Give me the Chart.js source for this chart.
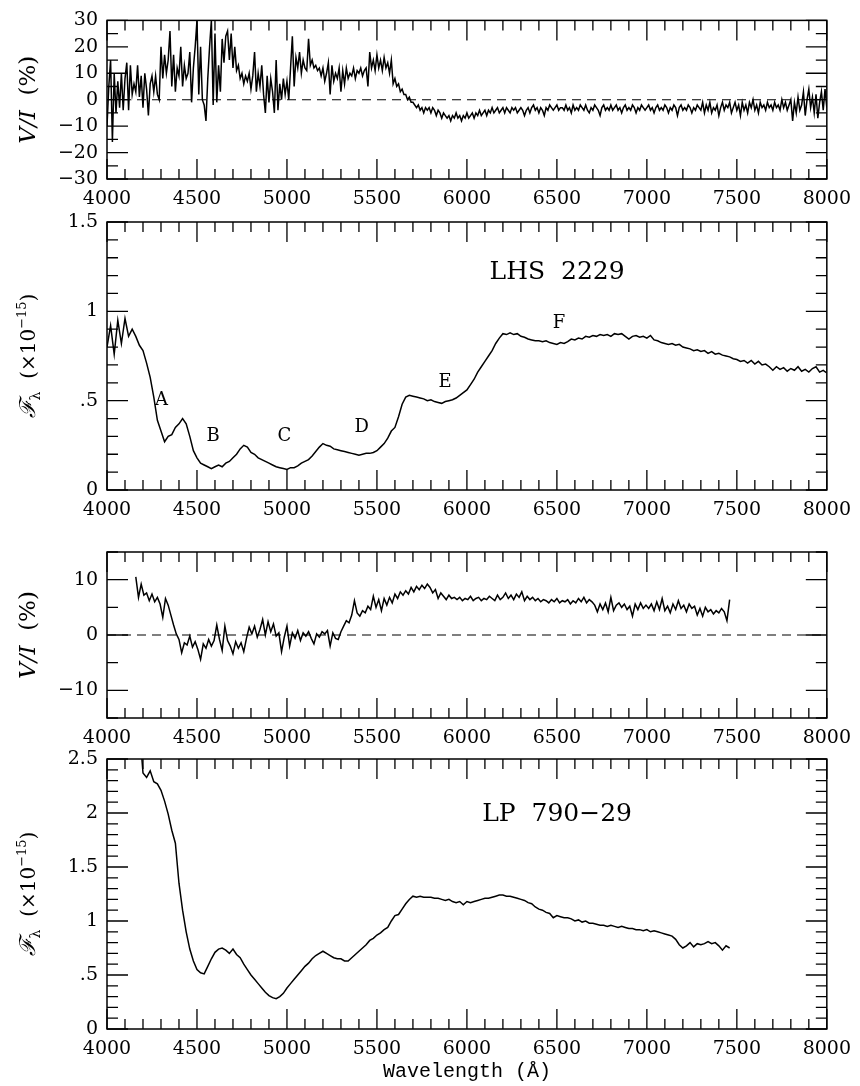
<!DOCTYPE html>
<html>
<head>
<meta charset="utf-8">
<script src="https://cdn.jsdelivr.net/npm/chart.js@4.4.1/dist/chart.umd.min.js"></script>
<style>
  body { margin: 0; background: #fff; }
  #wrap { position: relative; width: 860px; height: 1086px; }
  canvas { position: absolute; left: 0; }
</style>
</head>
<body>
<div id="wrap">
  <canvas id="c1" width="860" height="215" style="top:0px"></canvas>
  <canvas id="c2" width="860" height="326" style="top:200px"></canvas>
  <canvas id="c3" width="860" height="224" style="top:530px"></canvas>
  <canvas id="c4" width="860" height="349" style="top:737px"></canvas>
</div>
<script>
'use strict';

// wavelength axis, shared by all four panels
let xTicks = [4000, 4500, 5000, 5500, 6000, 6500, 7000, 7500, 8000];
let xMinorStep = 100;

// LHS 2229 circular polarization V/I (%), 10 A sampling from 4000
let lhsPolStart = 4000;
let lhsPolStep = 10;
let lhsPol = [
  -10, 5, 15, -16, 10, -5, 7, -3, 10, -4,
  8, 14, -4, 13, 2, 6, 3, 13, 1, 9,
  -3, 10, 4, -6, 6, 9, 3, 9, 2, 0,
  20, 8, 17, 10, 15, 26, 5, 17, 3, 12,
  9, 20, 5, 13, 8, 10, 18, -1, 12, 20,
  30, 2, 20, 0, -2, -8, 8, 20, 30, -2,
  25, -1, 13, 3, 23, 14, 24, 26, 15, 25,
  12, 20, 11, 13, 8, 10, 6, 9, 7, 10,
  4, 9, 18, 3, 10, 5, 13, 2, -5, 9,
  -1, 8, 3, -5, 15, -4, 6, 0, 8, 2,
  7, 0, 12, 24, 5, 16, 12, 18, 10, 15,
  12, 11, 23, 13, 15, 12, 13, 11, 12, 9,
  12, 7, 10, 14, 2, 13, 7, 10, 8, 12,
  3, 11, 6, 12, 8, 10, 9, 12, 8, 11,
  10, 12, 9, 11, 12, 5, 18, 12, 15, 11,
  17, 12, 15, 11, 16, 12, 14, 10, 15, 6,
  8, 5, 6, 3, 4, 2, 2, 0, 1, -1,
  -1, -2, -3, -2, -4, -3, -5, -3, -4, -3,
  -5, -3, -4, -6, -4, -5, -7, -5, -6, -7,
  -6, -8, -6, -7, -5, -7, -6, -8, -6, -7,
  -5, -7, -6, -5, -7, -5, -6, -4, -6, -5,
  -4, -6, -4, -5, -3, -5, -4, -3, -5, -4,
  -3, -5, -3, -4, -5, -3, -4, -3, -5, -4,
  -3, -4, -6, -4, -3, -5, -3, -2, -4, -3,
  -5, -3, -4, -6, -3, -4, -2, -3, -4, -3,
  -2, -4, -3, -3, -4, -2, -4, -3, -5, -2,
  -4, -3, -4, -2, -3, -4, -2, -4, -5, -3,
  -4, -2, -3, -4, -6, -3, -2, -4, -3, -4,
  -2, -4, -3, -2, -4, -3, -5, -3, -2, -4,
  -3, -4, -2, -3, -5, -3, -4, -2, -3, -4,
  -3, -2, -4, -3, -5, -3, -2, -4, -3, -4,
  -2, -3, -5, -3, -4, -2, -3, -6, -3, -2,
  -4, -3, -4, -2, -3, -5, -3, -4, -2, -3,
  -4, -1, -5, -2, -4, -1, -5, -3, -4, -2,
  -6, -3, -1, -4, -2, -3, -1, -5, -3, -1,
  -4, -2, -6, -1, -4, -2, -5, -1, -3, 0,
  -4, -2, -5, -1, -3, -2, -4, -1, -3, -2,
  -4, -1, -3, -2, -4, 0, -3, -1, -4, -2,
  0, -8, -1, -5, 1, -4, -2, 3, -6, 0,
  4, -3, 1, -5, 2, -7, -1, 3, -4, 4,
  -3
];
let lhsPolTicks = [-30, -20, -10, 0, 10, 20, 30];

// LHS 2229 flux (x1e-15), 20 A sampling from 4000
let lhsFluxStart = 4000;
let lhsFluxStep = 20;
let lhsFlux = [
  0.80, 0.92, 0.76, 0.95, 0.82, 0.96, 0.86, 0.90, 0.86, 0.81, 0.78,
  0.71, 0.63, 0.52, 0.39, 0.33, 0.27, 0.30, 0.31, 0.35, 0.37,
  0.40, 0.37, 0.30, 0.22, 0.18, 0.15, 0.14, 0.13, 0.12, 0.13,
  0.14, 0.13, 0.15, 0.16, 0.18, 0.20, 0.23, 0.25, 0.24, 0.21,
  0.20, 0.18, 0.17, 0.16, 0.15, 0.14, 0.13, 0.125, 0.12, 0.115,
  0.125, 0.125, 0.135, 0.15, 0.16, 0.17, 0.19, 0.215, 0.24, 0.26,
  0.25, 0.245, 0.23, 0.225, 0.22, 0.215, 0.21, 0.205, 0.20, 0.195,
  0.20, 0.205, 0.205, 0.21, 0.22, 0.24, 0.26, 0.29, 0.33, 0.35,
  0.41, 0.48, 0.52, 0.53, 0.525, 0.52, 0.515, 0.51, 0.50, 0.505,
  0.495, 0.49, 0.485, 0.495, 0.50, 0.505, 0.515, 0.53, 0.545, 0.56,
  0.59, 0.62, 0.66, 0.69, 0.72, 0.75, 0.78, 0.82, 0.85, 0.875,
  0.87, 0.88, 0.87, 0.875, 0.86, 0.855, 0.845, 0.84, 0.835, 0.835,
  0.83, 0.835, 0.825, 0.82, 0.815, 0.825, 0.82, 0.83, 0.845, 0.84,
  0.85, 0.845, 0.86, 0.855, 0.865, 0.86, 0.87, 0.865, 0.87, 0.86,
  0.875, 0.87, 0.875, 0.86, 0.845, 0.86, 0.865, 0.855, 0.86, 0.85,
  0.865, 0.84, 0.835, 0.825, 0.82, 0.815, 0.82, 0.81, 0.815, 0.80,
  0.795, 0.79, 0.78, 0.785, 0.775, 0.78, 0.765, 0.775, 0.76, 0.765,
  0.755, 0.75, 0.745, 0.735, 0.73, 0.72, 0.725, 0.71, 0.725, 0.705,
  0.72, 0.70, 0.705, 0.69, 0.67, 0.69, 0.675, 0.685, 0.665, 0.68,
  0.67, 0.69, 0.665, 0.675, 0.66, 0.68, 0.69, 0.66, 0.67, 0.655
];
let lhsFluxTicks = [0, 0.5, 1, 1.5];
let lhsFeatureNames = ['A', 'B', 'C', 'D', 'E', 'F'];
let lhsFeatureWaves = [4303, 4590, 4986, 5416, 5879, 6512];
let lhsFeatureFlux = [0.50, 0.30, 0.30, 0.35, 0.60, 0.935];

// LP 790-29 V/I (%), 15 A sampling from 4160
let lpPolStart = 4160;
let lpPolStep = 15;
let lpPol = [
  10.5, 6.8, 9.2, 7.2, 7.6, 6.2, 7.4, 6.0, 6.8, 5.6,
  3.2, 6.6, 5.4, 3.6, 1.8, 0.2, -0.8, -3.2, -1.4, -1.8,
  -0.2, -2.2, -1.2, -2.6, -4.4, -1.6, -2.4, -0.8, -2.0, -1.0,
  1.8, -0.8, -2.8, 1.6, -1.0, -2.0, -3.4, -1.2, -2.4, -1.4,
  -3.0, -0.6, 1.4, 0.2, 1.6, -0.4, 1.0, 2.8, 0.0, 2.4,
  0.6, 2.0, -0.2, 0.4, -3.0, -0.4, 1.6, -2.0, 0.4, -0.6,
  0.8, -1.0, 0.4, -0.2, 0.6, -0.6, -1.6, 0.2, -0.4, 0.6,
  0.2, 0.8, -2.0, 0.4, -0.6, -0.8, 0.6, 1.6, 2.6, 2.2,
  3.6, 6.2, 4.0, 3.4, 4.4, 4.0, 5.2, 4.6, 7.0, 5.0,
  6.4, 4.4, 6.6, 5.4, 6.8, 5.8, 7.4, 6.6, 7.8, 7.2,
  8.0, 7.4, 8.6, 7.8, 8.8, 8.2, 9.0, 8.4, 9.2, 8.6,
  7.6, 8.2, 6.6, 7.6, 7.0, 6.4, 7.2, 6.6, 6.8, 6.4,
  6.8, 6.2, 6.6, 6.4, 7.0, 6.2, 6.6, 6.8, 6.2, 6.6,
  6.4, 7.0, 6.6, 6.2, 7.2, 6.4, 6.8, 7.6, 6.6, 7.2,
  6.4, 7.4, 6.8, 7.8, 6.2, 7.0, 6.4, 6.8, 6.2, 6.6,
  6.0, 6.4, 6.2, 5.8, 6.4, 6.0, 6.6, 5.8, 6.2, 6.0,
  6.4, 5.6, 6.2, 5.8, 6.6, 6.0, 6.8, 5.8, 6.4, 6.0,
  5.4, 4.2, 5.6, 4.6, 5.8, 4.2, 6.8, 4.4, 5.4, 5.8,
  5.0, 5.6, 4.6, 5.2, 3.4, 5.6, 4.6, 5.8, 4.8, 5.4,
  4.8, 5.6, 4.4, 6.0, 4.6, 6.6, 4.4, 5.2, 4.0, 5.6,
  4.6, 6.2, 4.8, 5.4, 4.2, 5.6, 4.8, 5.2, 3.6, 4.8,
  3.4, 5.0, 4.2, 4.6, 3.8, 4.4, 4.0, 4.8, 4.2, 2.6,
  6.4
];
let lpPolTicks = [-10, 0, 10];

// LP 790-29 flux (x1e-15), 20 A sampling from 4180
let lpFluxStart = 4180;
let lpFluxStep = 20;
let lpFlux = [
  2.80, 2.37, 2.33, 2.39, 2.29, 2.27, 2.21, 2.11, 1.99, 1.84,
  1.72, 1.35, 1.10, 0.90, 0.74, 0.63, 0.55, 0.52, 0.51, 0.58,
  0.65, 0.71, 0.74, 0.75, 0.73, 0.70, 0.74, 0.69, 0.66, 0.60,
  0.55, 0.50, 0.46, 0.42, 0.38, 0.34, 0.31, 0.29, 0.28, 0.30,
  0.33, 0.38, 0.42, 0.46, 0.50, 0.54, 0.58, 0.61, 0.65, 0.68,
  0.70, 0.72, 0.70, 0.68, 0.66, 0.65, 0.65, 0.63, 0.63, 0.66,
  0.69, 0.72, 0.75, 0.78, 0.82, 0.84, 0.87, 0.89, 0.92, 0.94,
  1.00, 1.05, 1.06, 1.11, 1.16, 1.20, 1.23, 1.22, 1.23, 1.22,
  1.22, 1.22, 1.21, 1.21, 1.20, 1.19, 1.20, 1.18, 1.17, 1.18,
  1.15, 1.18, 1.17, 1.18, 1.19, 1.20, 1.21, 1.21, 1.22, 1.23,
  1.24, 1.24, 1.23, 1.23, 1.22, 1.21, 1.20, 1.19, 1.17, 1.16,
  1.13, 1.11, 1.10, 1.08, 1.07, 1.03, 1.05, 1.04, 1.03, 1.03,
  1.02, 1.00, 1.01, 0.99, 1.00, 0.98, 0.98, 0.97, 0.96, 0.96,
  0.95, 0.96, 0.95, 0.94, 0.95, 0.94, 0.93, 0.93, 0.92, 0.92,
  0.91, 0.92, 0.90, 0.91, 0.90, 0.89, 0.88, 0.87, 0.86, 0.83,
  0.78, 0.75, 0.77, 0.80, 0.76, 0.79, 0.78, 0.79, 0.81, 0.79,
  0.80, 0.77, 0.73, 0.77, 0.75
];
let lpFluxTicks = [0, 0.5, 1, 1.5, 2, 2.5];

let tickFont = { family: 'DejaVu Serif', size: 19 };
let serif = 'DejaVu Serif';

function toPoints(start, step, values) {
  return values.map((v, i) => ({ x: start + i * step, y: v }));
}

function fmt(v) {
  let s = String(v);
  if (Math.abs(v) > 0 && Math.abs(v) < 1) s = s.replace('0.', '.');
  return s.replace('-', '\u2212');
}

// rotated axis title made of pieces (for sub / superscripts)
function drawTitle(ctx, cx, cy, pieces) {
  ctx.save();
  ctx.translate(cx, cy);
  ctx.rotate(-Math.PI / 2);
  ctx.textBaseline = 'alphabetic';
  ctx.textAlign = 'left';
  let total = 0;
  pieces.forEach(p => {
    ctx.font = (p.italic ? 'italic ' : '') + p.size + 'px ' + serif;
    p.w = ctx.measureText(p.t).width;
    total += p.w;
  });
  let x = -total / 2;
  pieces.forEach(p => {
    ctx.font = (p.italic ? 'italic ' : '') + p.size + 'px ' + serif;
    ctx.fillText(p.t, x, 7 + (p.dy || 0));
    x += p.w;
  });
  ctx.restore();
}

let polTitle = [
  { t: 'V/I', size: 23, italic: true },
  { t: '  (%)', size: 23 }
];
let fluxTitle = [
  { t: '\u2131', size: 22, italic: true },
  { t: '\u03bb', size: 14, dy: 5 },
  { t: '  (\u00d710', size: 20 },
  { t: '\u221215', size: 13, dy: -9 },
  { t: ')', size: 20 }
];

let framePlugin = {
  id: 'frame',
  afterDatasetsDraw(chart, args, opts) {
    let ctx = chart.ctx;
    let a = chart.chartArea;
    let x = chart.scales.x;
    let y = chart.scales.y;
    ctx.save();
    ctx.strokeStyle = '#000';
    ctx.lineWidth = 1.3;
    ctx.beginPath();
    for (let v = xTicks[0]; v <= xTicks[xTicks.length - 1]; v += xMinorStep) {
      let px = x.getPixelForValue(v);
      let len = v % 500 === 0 ? 20 : 10;
      ctx.moveTo(px, a.bottom); ctx.lineTo(px, a.bottom - len);
      ctx.moveTo(px, a.top); ctx.lineTo(px, a.top + len);
    }
    let n = Math.round((opts.yMax - opts.yMin) / opts.yMinor);
    for (let i = 0; i <= n; i++) {
      let v = opts.yMin + i * opts.yMinor;
      let r = v / opts.yMajor;
      let len = Math.abs(r - Math.round(r)) < 1e-6 ? 21 : 11;
      let py = y.getPixelForValue(v);
      ctx.moveTo(a.left, py); ctx.lineTo(a.left + len, py);
      ctx.moveTo(a.right, py); ctx.lineTo(a.right - len, py);
    }
    ctx.stroke();
    ctx.lineWidth = 1.5;
    ctx.strokeRect(a.left, a.top, a.right - a.left, a.bottom - a.top);

    ctx.fillStyle = '#000';
    drawTitle(ctx, 28, (a.top + a.bottom) / 2, opts.title);

    ctx.textAlign = 'center';
    ctx.textBaseline = 'middle';
    if (opts.names) {
      ctx.font = '18px ' + serif;
      opts.names.forEach((t, i) => {
        ctx.fillText(t, x.getPixelForValue(opts.waves[i]), y.getPixelForValue(opts.flux[i]));
      });
    }
    if (opts.star) {
      ctx.font = '25px ' + serif;
      ctx.fillText(opts.star, x.getPixelForValue(opts.starAt[0]), y.getPixelForValue(opts.starAt[1]));
    }
    if (opts.xTitle) {
      ctx.font = '20px "Liberation Mono"';
      ctx.fillText(opts.xTitle, (a.left + a.right) / 2, a.bottom + 43);
    }
    ctx.restore();
  }
};

function makePanel(id, padTop, xHeight, points, yTicks, frame, withZero) {
  let datasets = [{
    data: points,
    borderColor: '#000',
    borderWidth: 1.5,
    pointRadius: 0,
    tension: 0,
    clip: 0
  }];
  if (withZero) {
    datasets.push({
      data: [{ x: xTicks[0], y: 0 }, { x: xTicks[xTicks.length - 1], y: 0 }],
      borderColor: '#000',
      borderWidth: 1.1,
      borderDash: [9, 6],
      pointRadius: 0
    });
  }
  return new Chart(document.getElementById(id), {
    type: 'line',
    data: { datasets: datasets },
    plugins: [framePlugin],
    options: {
      responsive: false,
      animation: false,
      layout: { padding: { left: 0, right: 27, top: padTop, bottom: 0 } },
      plugins: { legend: { display: false }, tooltip: { enabled: false }, frame: frame },
      scales: {
        x: {
          type: 'linear',
          min: xTicks[0],
          max: xTicks[xTicks.length - 1],
          afterBuildTicks: s => { s.ticks = xTicks.map(v => ({ value: v })); },
          afterFit: s => { s.height = xHeight; },
          grid: { display: false, drawTicks: false },
          border: { display: false },
          ticks: { color: '#000', font: tickFont, padding: 9, maxRotation: 0, autoSkip: false, callback: v => String(v) }
        },
        y: {
          min: frame.yMin,
          max: frame.yMax,
          afterBuildTicks: s => { s.ticks = yTicks.map(v => ({ value: v })); },
          afterFit: s => { s.width = 107; },
          grid: { display: false, drawTicks: false },
          border: { display: false },
          ticks: { color: '#000', font: tickFont, padding: 9, autoSkip: false, callback: v => fmt(v) }
        }
      }
    }
  });
}

makePanel('c1', 14, 36, toPoints(lhsPolStart, lhsPolStep, lhsPol), lhsPolTicks,
  { yMin: -30, yMax: 30, yMinor: 5, yMajor: 10, title: polTitle }, true);

makePanel('c2', 22, 36, toPoints(lhsFluxStart, lhsFluxStep, lhsFlux), lhsFluxTicks,
  { yMin: 0, yMax: 1.5, yMinor: 0.1, yMajor: 0.5, title: fluxTitle,
    names: lhsFeatureNames, waves: lhsFeatureWaves, flux: lhsFeatureFlux,
    star: 'LHS  2229', starAt: [6501, 1.215] }, false);

makePanel('c3', 22, 36, toPoints(lpPolStart, lpPolStep, lpPol), lpPolTicks,
  { yMin: -15, yMax: 15, yMinor: 5, yMajor: 10, title: polTitle }, true);

makePanel('c4', 22, 57, toPoints(lpFluxStart, lpFluxStep, lpFlux), lpFluxTicks,
  { yMin: 0, yMax: 2.5, yMinor: 0.1, yMajor: 0.5, title: fluxTitle,
    star: 'LP  790\u221229', starAt: [6501, 1.99], xTitle: 'Wavelength (\u00c5)' }, false);
</script>
</body>
</html>
